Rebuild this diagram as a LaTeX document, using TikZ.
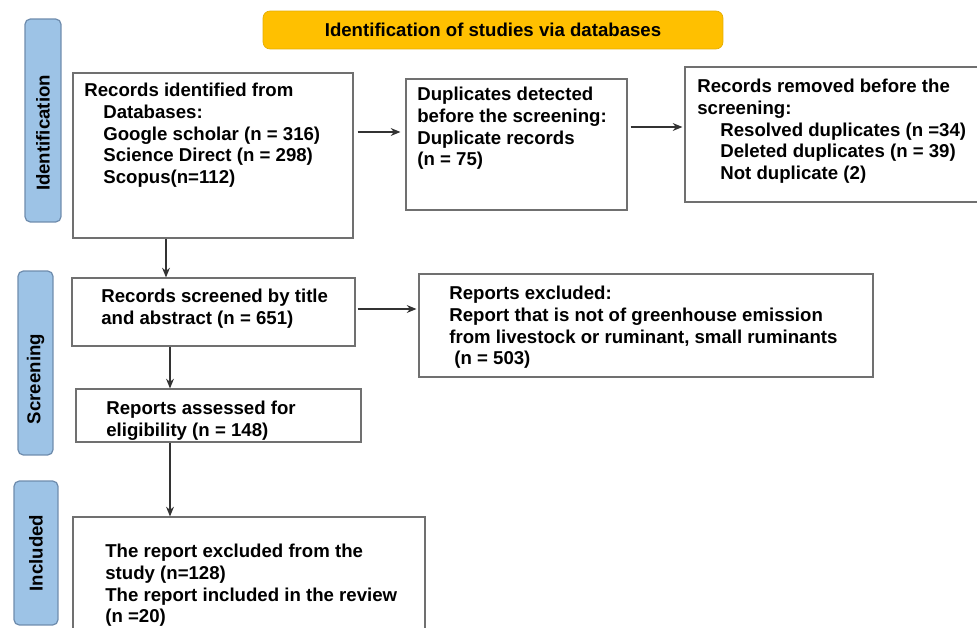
\documentclass[tikz,border=0pt]{standalone}
\usepackage{fontspec}
\setmainfont{Liberation Sans}
\usetikzlibrary{arrows.meta}

\definecolor{labelblue}{HTML}{9DC3E6}
\definecolor{labeledge}{HTML}{6E8CAD}
\definecolor{titleorange}{HTML}{FFC000}
\definecolor{boxedge}{HTML}{707070}

\begin{document}
\begin{tikzpicture}[x=0.02cm,y=-0.02cm,
    font=\bfseries\fontsize{10.6}{12.3}\selectfont,
    box/.style={draw=boxedge,line width=0.7pt,inner sep=0pt},
    txt/.style={anchor=north west,inner sep=0pt,align=left},
    phase/.style={draw=labeledge,fill=labelblue,line width=0.7pt,rounded corners=3pt,rotate=90,inner sep=0pt},
    arr/.style={draw=black!80,line width=0.6pt,-{Stealth[length=5.5pt,width=4.5pt]}}]
          \useasboundingbox (0,0) rectangle (977,628);

          \node[draw=titleorange!90!black,fill=titleorange,rounded corners=4pt,minimum width=9.2cm,minimum height=0.76cm] (title) at (493,30) {Identification of studies via databases};

          \node[phase,minimum width=4.06cm,minimum height=0.72cm] (idlab) at (43,120.5) {Identification\hspace*{0.5cm}};
          \node[phase,minimum width=3.68cm,minimum height=0.70cm] (scrlab) at (35.5,363) {Screening\hspace*{0.64cm}};
          \node[phase,minimum width=2.88cm,minimum height=0.88cm] (inclab) at (36,553) {Included};

          \node[box,minimum width=5.6cm,minimum height=3.3cm] (recid) at (213,155.5) {};
          \node[box,minimum width=4.42cm,minimum height=2.62cm] (dupl) at (516.5,144.5) {};
          \node[box,minimum width=6.0cm,minimum height=2.7cm] (removed) at (835,134.5) {};
          \node[box,minimum width=5.66cm,minimum height=1.36cm] (screened) at (213.5,312) {};
          \node[box,minimum width=9.08cm,minimum height=2.06cm] (excluded) at (646,325.5) {};
          \node[box,minimum width=5.7cm,minimum height=1.06cm] (assessed) at (218.5,415.5) {};
          \node[box,minimum width=7.04cm,minimum height=2.46cm] (final) at (249,578.5) {};

          \node[txt] (recidtxt) at (84,83) {Records identified from\\
            \hspace*{0.38cm}Databases:\\
            \hspace*{0.38cm}Google scholar (n = 316)\\
            \hspace*{0.38cm}Science Direct (n = 298)\\
            \hspace*{0.38cm}Scopus(n=112)};
          \node[txt] (dupltxt) at (417,87) {Duplicates detected\\before the screening:\\Duplicate records\\(n = 75)};
          \node[txt] (removedtxt) at (697,79) {Records removed before the\\screening:\\
            \hspace*{0.46cm}Resolved duplicates (n =34)\\
            \hspace*{0.46cm}Deleted duplicates (n = 39)\\
            \hspace*{0.46cm}Not duplicate (2)};
          \node[txt] (screenedtxt) at (101,289) {Records screened by title\\and abstract (n = 651)};
          \node[txt] (excludedtxt) at (449,286) {Reports excluded:\\Report that is not of greenhouse emission\\from livestock or ruminant, small ruminants\\\hspace*{0.1cm}(n = 503)};
          \node[txt] (assessedtxt) at (106,401) {Reports assessed for\\eligibility (n = 148)};
          \node[txt] (finaltxt) at (105,544) {The report excluded from the\\study (n=128)\\The report included in the review\\(n =20)};

          \draw[arr,shorten <=0.08cm,shorten >=0.1cm] (recid.east |- 0,132) -- (dupl.west |- 0,132);
          \draw[arr,shorten <=0.06cm,shorten >=0.04cm] (dupl.east |- 0,127) -- (removed.west |- 0,127);
          \draw[arr] (recid.south -| 166,0) -- (screened.north -| 166,0);
          \draw[arr,shorten <=0.04cm,shorten >=0.04cm] (screened.east |- 0,309) -- (excluded.west |- 0,309);
          \draw[arr] (screened.south -| 170,0) -- (assessed.north -| 170,0);
          \draw[arr] (assessed.south -| 170,0) -- (final.north -| 170,0);
        \end{tikzpicture}
\end{document}
